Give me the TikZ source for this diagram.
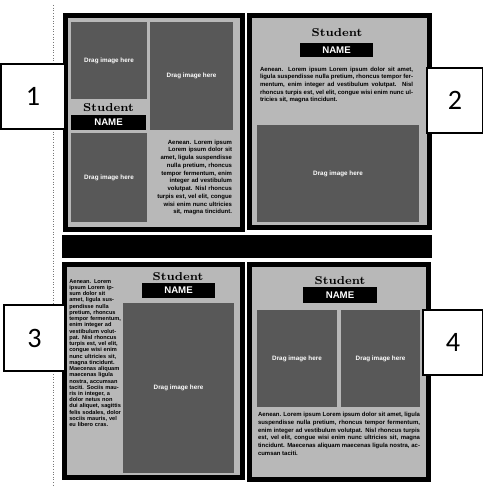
\documentclass[tikz,border=0pt]{standalone}
\usepackage{fontspec}
\setsansfont{Liberation Sans}
\newfontfamily\numfont{Carlito}
\usepackage{tikz}
\usetikzlibrary{positioning}
\definecolor{pagegray}{RGB}{184,184,184}
\definecolor{imggray}{RGB}{88,88,88}
\definecolor{rulegray}{RGB}{120,120,120}
\tikzset{
  dragtext/.style={font=\fontsize{3.6}{4}\selectfont\sffamily\bfseries, text=white},
  studenttext/.style={font=\fontsize{6.5}{7}\selectfont\bfseries, text=black, inner sep=0pt},
  namebox/.style={fill=black, text=white, font=\fontsize{5.5}{6}\selectfont\sffamily\bfseries,
    minimum width=1.48cm, minimum height=0.3cm, inner sep=0pt},
  bodytext/.style={font=\fontsize{3.4}{4.4}\selectfont\sffamily\bfseries, text=black, inner sep=0pt},
  numbox/.style={draw=black, line width=0.6pt, fill=white, font=\numfont\fontsize{16}{18}\selectfont,
    inner sep=0pt}
}
\newcommand{\loremshort}{Aenean. Lorem ipsum Lorem ipsum dolor sit amet, ligula suspendisse nulla pretium, rhoncus tempor fermentum, enim integer ad vestibulum volutpat. Nisl rhoncus turpis est, vel elit, congue wisi enim nunc ultricies sit, magna tincidunt.}
\begin{document}
\begin{tikzpicture}
  \useasboundingbox (0,0) rectangle (9.64,9.74);
  \fill[white] (0,0) rectangle (9.64,9.74);

  % ruler edge
  \draw[rulegray, densely dotted, line width=0.5pt] (1.06,9.64) -- (1.06,0);

  % Page 1
  \fill[black] (1.26,5.10) rectangle (4.90,9.48);
  \fill[pagegray] (1.36,5.20) rectangle (4.80,9.38);
  \fill[imggray] (1.42,7.76) rectangle (2.94,9.30);
  \node[dragtext] (img1a) at (2.18,8.53) {Drag image here};
  \fill[imggray] (3.00,7.14) rectangle (4.66,9.30);
  \node[dragtext] (img1b) at (3.83,8.22) {Drag image here};
  \node[studenttext] (student1) at (2.17,7.58) {Student};
  \node[namebox, minimum width=1.50cm] (name1) at (2.17,7.29) {NAME};
  \fill[imggray] (1.42,5.30) rectangle (2.94,7.08);
  \node[dragtext] (img1c) at (2.18,6.19) {Drag image here};
  \node[bodytext, text width=1.6cm, align=right] (text1) at (3.84,6.19) {\loremshort};

  % Page 2
  \fill[black] (4.94,5.14) rectangle (8.64,9.48);
  \fill[pagegray] (5.04,5.24) rectangle (8.54,9.38);
  \node[studenttext] (student2) at (6.74,9.08) {Student};
  \node[namebox, minimum width=1.46cm, minimum height=0.28cm] (name2) at (6.73,8.74) {NAME};
  \node[bodytext, text width=3.06cm, align=justify] (text2) at (6.73,8.04) {\loremshort};
  \fill[imggray] (5.14,5.30) rectangle (8.38,7.24);
  \node[dragtext] (img2) at (6.76,6.27) {Drag image here};

  % Separator bar
  \fill[black] (1.24,4.58) rectangle (8.64,5.04);

  % Page 3
  \fill[black] (1.24,0.14) rectangle (4.90,4.50);
  \fill[pagegray] (1.34,0.24) rectangle (4.80,4.40);
  \node[studenttext] (student3) at (3.56,4.20) {Student};
  \node[namebox, minimum width=1.46cm] (name3) at (3.57,3.93) {NAME};
  \fill[imggray] (2.46,0.28) rectangle (4.68,3.68);
  \node[dragtext] (img3) at (3.57,1.98) {Drag image here};
  \node[bodytext, font=\fontsize{3.2}{3.55}\selectfont\sffamily\bfseries, text width=1.04cm, align=left,
    anchor=north west] (text3) at (1.38,4.16)
    {Aenean. Lorem ipsum Lorem ipsum dolor sit amet, ligula suspendisse nulla pretium, rhoncus tempor fermentum, enim integer ad vestibulum volutpat. Nisl rhoncus turpis est, vel elit, congue wisi enim nunc ultricies sit, magna tincidunt. Maecenas aliquam maecenas ligula nostra, accumsan taciti. Sociis mauris in integer, a dolor netus non dui aliquet, sagittis felis sodales, dolor sociis mauris, vel eu libero cras.};

  % Page 4
  \fill[black] (4.94,0.10) rectangle (8.62,4.50);
  \fill[pagegray] (5.04,0.20) rectangle (8.52,4.40);
  \node[studenttext] (student4) at (6.80,4.12) {Student};
  \node[namebox, minimum height=0.32cm] (name4) at (6.80,3.84) {NAME};
  \fill[imggray] (5.14,1.60) rectangle (6.74,3.54);
  \node[dragtext] (img4a) at (5.94,2.57) {Drag image here};
  \fill[imggray] (6.82,1.60) rectangle (8.40,3.54);
  \node[dragtext] (img4b) at (7.61,2.57) {Drag image here};
  \node[bodytext, text width=3.24cm, align=justify] (text4) at (6.78,1.06)
    {\loremshort{} Maecenas aliquam maecenas ligula nostra, accumsan taciti.};

  % Number labels
  \node[numbox, minimum width=1.28cm, minimum height=1.30cm] (num1) at (0.66,7.81) {1};
  \node[numbox, minimum width=1.12cm, minimum height=1.30cm] (num2) at (9.10,7.73) {2};
  \node[numbox, minimum width=1.22cm, minimum height=1.32cm] (num3) at (0.69,2.98) {3};
  \node[numbox, minimum width=1.20cm, minimum height=1.30cm] (num4) at (9.06,2.89) {4};
\end{tikzpicture}
\end{document}
